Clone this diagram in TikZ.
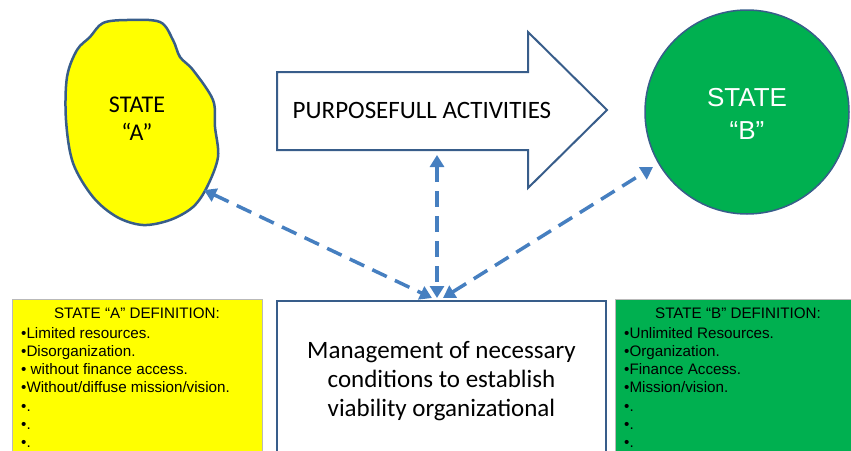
\documentclass[tikz,border=0pt]{standalone}
\usepackage{fontspec}
\setmainfont{Carlito}
\newfontfamily\arialfont{Liberation Sans}
\usetikzlibrary{arrows.meta}
\definecolor{outl}{RGB}{56,93,138}
\definecolor{arrc}{RGB}{70,127,192}
\definecolor{yel}{RGB}{255,255,0}
\definecolor{grn}{RGB}{0,176,80}
\definecolor{gborder}{RGB}{185,185,185}
\begin{document}
\begin{tikzpicture}[x=1pt,y=-1pt,
  conn/.style={arrc, line width=3.5pt, dash pattern=on 16pt off 9pt,
    {Triangle[length=12pt,width=14pt]}-{Triangle[length=12pt,width=14pt]}},
  defbox/.style={draw=gborder, line width=0.8pt, anchor=north west, inner sep=0pt},
  deftext/.style={font=\arialfont\fontsize{15.2}{18}\selectfont, inner sep=0pt, anchor=base west},
  deftitle/.style={font=\arialfont\fontsize{15.2}{18}\selectfont, inner sep=0pt}
]
\useasboundingbox (0,0) rectangle (851,450);
\clip (0,0) rectangle (851,450);

% definition boxes
\node[defbox, fill=yel, minimum width=250pt, minimum height=170pt] (ybox) at (12,299) {};
\node[defbox, fill=grn, minimum width=236pt, minimum height=170pt] (gbox) at (615,299) {};

\node[deftitle] (ytitle) at (137,313) {STATE “A” DEFINITION:};
\foreach \t [count=\i] in {{•Limited resources.},{•Disorganization.},{• without  finance access.},{•Without/diffuse mission/vision.},{•.},{•.},{•.}}
  \node[deftext] (ya\i) at (21,{320+18.2*\i}) {\t};

\node[deftitle] (gtitle) at (738,313) {STATE “B” DEFINITION:};
\foreach \t [count=\i] in {{•Unlimited Resources.},{•Organization.},{•Finance Access.},{•Mission/vision.},{•.},{•.},{•.}}
  \node[deftext] (gb\i) at (624,{320+18.2*\i}) {\t};

% management box
\node[draw=outl, line width=2pt, fill=white, anchor=north, minimum width=329pt, minimum height=160pt,
      align=center, font=\fontsize{25}{29}\selectfont] (mgmt) at (441.5,300)
  {Management of necessary\\conditions to establish\\viability organizational};

% state A blob
\draw[draw=outl, line width=2.5pt, fill=yel] plot[smooth cycle, tension=0.55] coordinates {
  (90,37) (103,23) (127,20) (160,22) (173,40) (180,57) (193,70) (213,100)
  (215,127) (218,157) (207,187) (193,207) (170,220) (143,225) (117,217)
  (93,197) (73,163) (66,120) (67,77) (77,50)};
\node[align=center, font=\fontsize{24}{28}\selectfont] (stA) at (137,119) {STATE\\“A”};
\coordinate (aEdge) at (204,190);

% arrow
\draw[draw=outl, line width=2pt, fill=white, line join=miter]
  (277,72) -- (528,72) -- (528,32) -- (607,110) -- (528,188) -- (528,150) -- (277,150) -- cycle;
\node[font=\fontsize{25}{29}\selectfont] (act) at (422,110) {PURPOSEFULL ACTIVITIES};
\coordinate (actBottom) at (437,155);

% state B circle
\node[circle, draw=outl, line width=1.5pt, fill=grn, minimum size=204pt, inner sep=0pt] (stB) at (747,112) {};
\node[align=center, text=white, font=\arialfont\fontsize{26}{33}\selectfont] (stBtext) at (747,114) {STATE\\“B”};
\coordinate (bEdge) at (653,167);

% connectors
\coordinate (m1) at (432,298);
\coordinate (m2) at (437,298);
\coordinate (m3) at (443,298);
\draw[conn] (aEdge) -- (m1);
\draw[conn] (actBottom) -- (m2);
\draw[conn] (m3) -- (bEdge);
\end{tikzpicture}
\end{document}
